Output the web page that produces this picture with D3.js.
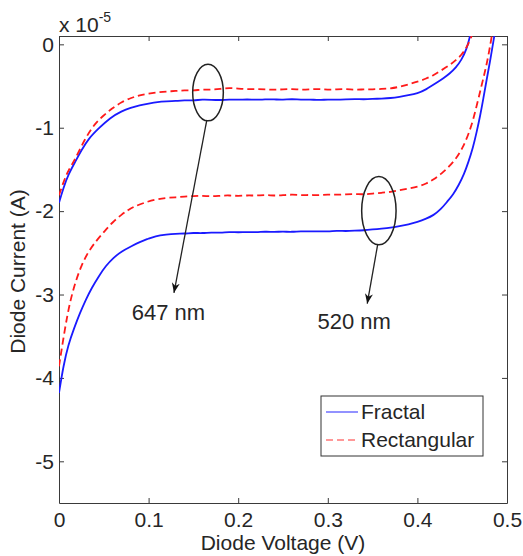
<!DOCTYPE html>
<html>
<head>
<meta charset="utf-8">
<script src="https://cdn.jsdelivr.net/npm/d3@7"></script>
<style>
  body { margin: 0; background: #fff; }
  text { font-family: "Liberation Sans", Arial, sans-serif; fill: #262626; }
</style>
</head>
<body>
<svg id="chart"></svg>
<script>
const width = 523;
const height = 556;

// currents are in units of 1e-5 A (axis shows "x 10^-5")
const fractal647V = [0, 0.005, 0.01, 0.018, 0.025, 0.033, 0.044, 0.057, 0.07, 0.08, 0.09, 0.1, 0.11, 0.12, 0.13, 0.14, 0.15, 0.16, 0.17, 0.18, 0.19, 0.2, 0.21, 0.22, 0.23, 0.24, 0.25, 0.26, 0.27, 0.28, 0.29, 0.3, 0.31, 0.32, 0.33, 0.34, 0.35, 0.36, 0.37, 0.38, 0.39, 0.4, 0.41, 0.42, 0.43, 0.436, 0.443, 0.449, 0.455, 0.4587];
const fractal647I = [-1.90, -1.72, -1.57, -1.41, -1.27, -1.13, -1.01, -0.88, -0.80, -0.76, -0.73, -0.71, -0.69, -0.685, -0.68, -0.67, -0.675, -0.66, -0.665, -0.67, -0.66, -0.665, -0.66, -0.665, -0.66, -0.66, -0.665, -0.655, -0.665, -0.66, -0.67, -0.66, -0.665, -0.66, -0.655, -0.66, -0.655, -0.65, -0.645, -0.63, -0.61, -0.59, -0.54, -0.47, -0.40, -0.35, -0.28, -0.19, -0.06, 0.1];

const rect647V = [0, 0.005, 0.01, 0.018, 0.029, 0.04, 0.05, 0.059, 0.07, 0.081, 0.09, 0.1, 0.11, 0.12, 0.13, 0.14, 0.15, 0.16, 0.17, 0.18, 0.19, 0.2, 0.21, 0.22, 0.23, 0.24, 0.25, 0.26, 0.27, 0.28, 0.29, 0.3, 0.31, 0.32, 0.33, 0.34, 0.35, 0.36, 0.37, 0.38, 0.39, 0.4, 0.41, 0.418, 0.427, 0.436, 0.443, 0.449, 0.455, 0.4606];
const rect647I = [-1.81, -1.65, -1.52, -1.38, -1.13, -0.95, -0.85, -0.77, -0.69, -0.64, -0.61, -0.59, -0.575, -0.565, -0.56, -0.55, -0.555, -0.54, -0.545, -0.535, -0.52, -0.53, -0.54, -0.535, -0.54, -0.545, -0.54, -0.535, -0.545, -0.54, -0.535, -0.545, -0.54, -0.535, -0.545, -0.54, -0.54, -0.535, -0.53, -0.51, -0.48, -0.45, -0.41, -0.37, -0.31, -0.25, -0.19, -0.13, -0.04, 0.1];

const rect520V = [0, 0.0067, 0.012, 0.018, 0.025, 0.033, 0.042, 0.051, 0.06, 0.07, 0.078, 0.085, 0.095, 0.107, 0.12, 0.13, 0.14, 0.15, 0.16, 0.17, 0.18, 0.19, 0.2, 0.21, 0.22, 0.23, 0.24, 0.25, 0.26, 0.27, 0.28, 0.29, 0.3, 0.31, 0.32, 0.33, 0.34, 0.35, 0.36, 0.37, 0.38, 0.39, 0.4, 0.41, 0.418, 0.427, 0.436, 0.444, 0.451, 0.457, 0.4624, 0.467, 0.4717, 0.476, 0.4792, 0.483];
const rect520I = [-3.86, -3.40, -3.10, -2.86, -2.65, -2.48, -2.35, -2.24, -2.13, -2.04, -1.98, -1.94, -1.90, -1.86, -1.84, -1.835, -1.825, -1.82, -1.815, -1.825, -1.815, -1.81, -1.82, -1.81, -1.815, -1.805, -1.815, -1.81, -1.80, -1.81, -1.805, -1.81, -1.80, -1.805, -1.80, -1.795, -1.80, -1.79, -1.78, -1.77, -1.75, -1.73, -1.71, -1.67, -1.62, -1.55, -1.46, -1.36, -1.23, -1.08, -0.90, -0.70, -0.49, -0.30, -0.14, 0.1];

const fractal520V = [0, 0.005, 0.0104, 0.017, 0.0234, 0.03, 0.0365, 0.045, 0.052, 0.0606, 0.07, 0.081, 0.09, 0.1, 0.107, 0.12, 0.13, 0.14, 0.15, 0.16, 0.17, 0.18, 0.19, 0.2, 0.21, 0.22, 0.23, 0.24, 0.25, 0.26, 0.27, 0.28, 0.29, 0.3, 0.31, 0.32, 0.33, 0.34, 0.35, 0.36, 0.37, 0.38, 0.39, 0.4, 0.41, 0.418, 0.426, 0.433, 0.44, 0.446, 0.452, 0.457, 0.462, 0.4662, 0.47, 0.4736, 0.477, 0.481, 0.4858];
const fractal520I = [-4.18, -3.85, -3.60, -3.40, -3.22, -3.06, -2.92, -2.77, -2.66, -2.56, -2.48, -2.42, -2.37, -2.33, -2.30, -2.28, -2.27, -2.27, -2.26, -2.265, -2.255, -2.26, -2.25, -2.255, -2.25, -2.255, -2.245, -2.25, -2.245, -2.25, -2.24, -2.245, -2.24, -2.245, -2.235, -2.24, -2.235, -2.23, -2.22, -2.21, -2.20, -2.18, -2.16, -2.13, -2.09, -2.05, -1.98, -1.89, -1.80, -1.69, -1.56, -1.41, -1.24, -1.05, -0.86, -0.65, -0.44, -0.21, 0.1];

const xTicks = [0, 0.1, 0.2, 0.3, 0.4, 0.5];
const yTicks = [0, -1, -2, -3, -4, -5];
const legendLabels = ["Fractal", "Rectangular"];

// ellipses: [cx, cy, rx, ry] in data units, arrows: [x1, y1, x2, y2]
const ellipses = [[0.1663, -0.578, 0.0171, 0.339], [0.357, -1.995, 0.0192, 0.409]];
const arrows = [[0.1648, -0.917, 0.1283, -2.98], [0.3556, -2.405, 0.344, -3.11]];
const notes = [[0.0811, -3.31, "647 nm"], [0.2885, -3.41, "520 nm"]];

const margin = { left: 59, right: 16, top: 36, bottom: 53 };
const x = d3.scaleLinear().domain([0, 0.5]).range([margin.left, width - margin.right]);
const y = d3.scaleLinear().domain([-5.5, 0.1]).range([height - margin.bottom, margin.top]);

const svg = d3.select("#chart")
  .attr("width", width)
  .attr("height", height)
  .attr("viewBox", `0 0 ${width} ${height}`);

svg.append("rect").attr("width", width).attr("height", height).attr("fill", "#fff");

svg.append("clipPath").attr("id", "clip")
  .append("rect")
  .attr("x", x(0)).attr("y", y(0.1))
  .attr("width", x(0.5) - x(0)).attr("height", y(-5.5) - y(0.1));

const fmt = d => String(d);
const axisColor = "#3a3a3a";

function styleAxis(g) {
  g.selectAll("path").attr("stroke", axisColor);
  g.selectAll("line").attr("stroke", axisColor);
  g.selectAll("text").attr("font-size", 21).attr("fill", "#262626")
    .attr("font-family", '"Liberation Sans", Arial, sans-serif');
}

svg.append("g")
  .attr("transform", `translate(0,${y(-5.5)})`)
  .call(d3.axisBottom(x).tickValues(xTicks).tickFormat(fmt).tickSizeInner(-5).tickSizeOuter(0).tickPadding(9))
  .call(styleAxis);
svg.append("g")
  .attr("transform", `translate(0,${y(0.1)})`)
  .call(d3.axisTop(x).tickValues(xTicks).tickFormat("").tickSizeInner(-5).tickSizeOuter(0))
  .call(styleAxis);
svg.append("g")
  .attr("transform", `translate(${x(0)},0)`)
  .call(d3.axisLeft(y).tickValues(yTicks).tickFormat(fmt).tickSizeInner(-5).tickSizeOuter(0).tickPadding(5))
  .call(styleAxis);
svg.append("g")
  .attr("transform", `translate(${x(0.5)},0)`)
  .call(d3.axisRight(y).tickValues(yTicks).tickFormat("").tickSizeInner(-5).tickSizeOuter(0))
  .call(styleAxis);

// exponent label
const expo = svg.append("text").attr("x", x(0)).attr("y", 32).attr("font-size", 21).text("x 10");
expo.append("tspan").attr("font-size", 14).attr("dy", -10).text("-5");

svg.append("text")
  .attr("transform", `translate(25,${(y(0.1) + y(-5.5)) / 2 + 2}) rotate(-90)`)
  .attr("text-anchor", "middle").attr("font-size", 21)
  .text("Diode Current (A)");
svg.append("text")
  .attr("x", (x(0) + x(0.5)) / 2).attr("y", 550)
  .attr("text-anchor", "middle").attr("font-size", 21)
  .text("Diode Voltage (V)");

const line = d3.line().x(d => x(d[0])).y(d => y(d[1])).curve(d3.curveBasis);
const series = [
  { v: fractal647V, i: fractal647I, color: "#1a1aff", dash: null },
  { v: fractal520V, i: fractal520I, color: "#1a1aff", dash: null },
  { v: rect647V, i: rect647I, color: "#ff1a1a", dash: "7,4" },
  { v: rect520V, i: rect520I, color: "#ff1a1a", dash: "7,4" }
];

const plot = svg.append("g").attr("clip-path", "url(#clip)");
plot.selectAll("path.curve").data(series).enter()
  .append("path")
  .attr("class", "curve")
  .attr("d", s => line(s.v.map((v, k) => [v, s.i[k]])))
  .attr("fill", "none")
  .attr("stroke", s => s.color)
  .attr("stroke-width", 1.8)
  .attr("stroke-dasharray", s => s.dash);

// annotations
svg.append("defs").append("marker")
  .attr("id", "head").attr("viewBox", "0 0 10 10")
  .attr("refX", 10).attr("refY", 5)
  .attr("markerWidth", 10).attr("markerHeight", 10)
  .attr("markerUnits", "userSpaceOnUse")
  .attr("orient", "auto")
  .append("path").attr("d", "M0,1 L10,5 L0,9 L3,5 Z").attr("fill", "#111");

svg.selectAll("ellipse.mark").data(ellipses).enter()
  .append("ellipse")
  .attr("cx", d => x(d[0])).attr("cy", d => y(d[1]))
  .attr("rx", d => x(d[2]) - x(0)).attr("ry", d => y(0) - y(d[3]))
  .attr("fill", "none").attr("stroke", "#222").attr("stroke-width", 1.5);

svg.selectAll("line.arrow").data(arrows).enter()
  .append("line")
  .attr("x1", d => x(d[0])).attr("y1", d => y(d[1]))
  .attr("x2", d => x(d[2])).attr("y2", d => y(d[3]))
  .attr("stroke", "#222").attr("stroke-width", 1.3)
  .attr("marker-end", "url(#head)");

svg.selectAll("text.note").data(notes).enter()
  .append("text")
  .attr("x", d => x(d[0])).attr("y", d => y(d[1]))
  .attr("font-size", 22)
  .text(d => d[2]);

// legend
const legend = svg.append("g");
legend.append("rect")
  .attr("x", 321).attr("y", 396).attr("width", 162).attr("height", 60)
  .attr("fill", "#fff").attr("stroke", "#333").attr("stroke-width", 1);
legendLabels.forEach((label, k) => {
  const ly = 412 + k * 28;
  const s = series[k * 2];
  legend.append("line")
    .attr("x1", 326).attr("x2", 358).attr("y1", ly).attr("y2", ly)
    .attr("stroke", s.color).attr("stroke-width", 1.6)
    .attr("stroke-opacity", 0.6)
    .attr("stroke-dasharray", s.dash);
  legend.append("text")
    .attr("x", 361).attr("y", ly).attr("dy", "0.35em")
    .attr("font-size", 21)
    .text(label);
});
</script>
</body>
</html>
